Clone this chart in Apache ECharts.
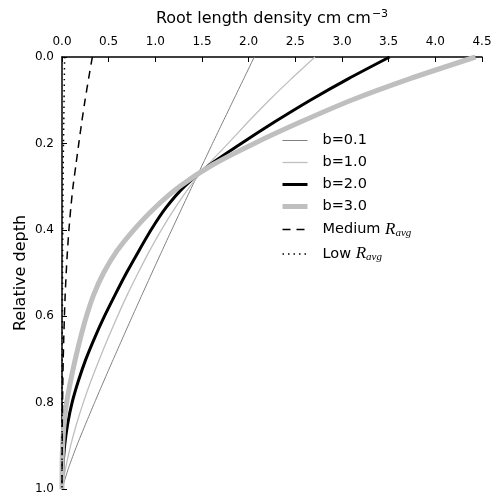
<!DOCTYPE html>
<html>
<head>
<meta charset="utf-8">
<script src="https://cdn.jsdelivr.net/npm/echarts@6/dist/echarts.min.js"></script>
<style>
html,body{margin:0;padding:0;background:#fff;}
#chart{width:496px;height:504px;}
</style>
</head>
<body>
<div id="chart"></div>
<script>
// Relative depth (y values)
const depth = [0, 0.05, 0.1, 0.15, 0.2, 0.25, 0.3, 0.35, 0.4, 0.45, 0.5, 0.55, 0.6, 0.65, 0.7, 0.75, 0.8, 0.85, 0.9, 0.95, 1.0];
// Root length density (x values) for each curve
const b01 = [2.06, 1.948, 1.836, 1.724, 1.613, 1.503, 1.393, 1.284, 1.176, 1.069, 0.963, 0.858, 0.754, 0.651, 0.549, 0.448, 0.349, 0.252, 0.158, 0.072, 0];
const b10 = [2.71, 2.46, 2.22, 1.995, 1.78, 1.56, 1.37, 1.21, 1.065, 0.935, 0.815, 0.70, 0.595, 0.495, 0.40, 0.31, 0.228, 0.155, 0.092, 0.04, 0];
const b20 = [3.51, 3.07, 2.66, 2.28, 1.92, 1.58, 1.31, 1.11, 0.955, 0.82, 0.69, 0.57, 0.455, 0.35, 0.255, 0.175, 0.108, 0.06, 0.028, 0.01, 0];
const b30 = [4.43, 3.73, 3.10, 2.56, 2.06, 1.61, 1.26, 0.99, 0.77, 0.585, 0.445, 0.34, 0.262, 0.198, 0.142, 0.092, 0.05, 0.022, 0.007, 0.001, 0];
const mediumR = [0.325, 0.285, 0.247, 0.212, 0.18, 0.149, 0.118, 0.094, 0.074, 0.058, 0.045, 0.034, 0.026, 0.019, 0.013, 0.009, 0.006, 0.003, 0.002, 0.001, 0];
const lowR = [0.028, 0.025, 0.022, 0.019, 0.016, 0.013, 0.011, 0.009, 0.008, 0.007, 0.006, 0.005, 0.004, 0.003, 0.002, 0.0015, 0.001, 0.0006, 0.0003, 0.0001, 0];
const seriesNames = ['b=0.1', 'b=1.0', 'b=2.0', 'b=3.0', 'Medium', 'Low'];

function pairs(xs) { return xs.map((x, i) => [x, depth[i]]); }

const chart = echarts.init(document.getElementById('chart'), null, {renderer: 'canvas'});
const FONT = 'DejaVu Sans';

const styles = {
  'b=0.1': {color: '#808080', width: 1, type: 'solid'},
  'b=1.0': {color: '#bfbfbf', width: 1.3, type: 'solid'},
  'b=2.0': {color: '#000000', width: 3, type: 'solid'},
  'b=3.0': {color: '#bfbfbf', width: 5, type: 'solid'},
  'Medium': {color: '#000000', width: 1.5, type: [8, 6]},
  'Low': {color: '#000000', width: 1.5, type: [1.5, 4]}
};

function mkSeries(name, xs) {
  const s = styles[name];
  return {
    name: name, type: 'line', data: pairs(xs), symbol: 'none', showSymbol: false, smooth: 0.2,
    lineStyle: {color: s.color, width: s.width, type: s.type, cap: 'butt'},
    itemStyle: {color: s.color},
    emphasis: {disabled: true}, animation: false, clip: true
  };
}

chart.setOption({
  animation: false,
  grid: {left: 62, top: 57, right: 14, bottom: 15, containLabel: false},
  xAxis: {
    type: 'value', position: 'top', min: 0, max: 4.5, interval: 0.5,
    name: '{a|Root length density cm cm}{b|−3}',
    nameLocation: 'middle', nameGap: 28,
    nameTextStyle: {
      rich: {
        a: {fontFamily: FONT, fontSize: 16, color: '#000'},
        b: {fontFamily: FONT, fontSize: 11, color: '#000', verticalAlign: 'top', padding: [0, 0, 9, 1]}
      }
    },
    axisLine: {show: true, onZero: false, lineStyle: {color: '#000', width: 1.5}},
    axisTick: {show: true, inside: true, length: 5, lineStyle: {color: '#000', width: 1}},
    axisLabel: {fontFamily: FONT, fontSize: 12, color: '#000', margin: 9,
      formatter: v => v.toFixed(1)},
    splitLine: {show: false}
  },
  yAxis: {
    type: 'value', inverse: true, min: 0, max: 1, interval: 0.2,
    name: 'Relative depth', nameLocation: 'middle', nameGap: 33, nameMoveOverlap: false,
    nameTextStyle: {fontFamily: FONT, fontSize: 16, color: '#000'},
    axisLine: {show: true, onZero: false, lineStyle: {color: '#000', width: 1.5}},
    axisTick: {show: true, inside: true, length: 5, lineStyle: {color: '#000', width: 1}},
    axisLabel: {fontFamily: FONT, fontSize: 12, color: '#000', margin: 8,
      formatter: v => v.toFixed(1)},
    splitLine: {show: false}
  },
  legend: {
    show: true,
    orient: 'vertical', left: 275, top: 128, itemWidth: 25, itemHeight: 14, itemGap: 7,
    data: seriesNames.map(n => ({
      name: n,
      itemStyle: {opacity: 0, borderWidth: 0},
      lineStyle: {color: styles[n].color, width: styles[n].width, type: styles[n].type}
    })),
    itemStyle: {opacity: 0, borderWidth: 0},
    formatter: function (name) {
      if (name === 'Medium') return '{t|Medium }{r|R}{s|avg}';
      if (name === 'Low') return '{t|Low }{r|R}{s|avg}';
      return '{t|' + name + '}';
    },
    textStyle: {
      fontFamily: FONT, fontSize: 14.5, color: '#000', padding: [0, 0, 0, 10],
      rich: {
        t: {fontFamily: FONT, fontSize: 14.5, color: '#000', lineHeight: 17},
        r: {fontFamily: 'Liberation Serif', fontStyle: 'italic', fontSize: 17, color: '#000'},
        s: {fontFamily: 'Liberation Serif', fontStyle: 'italic', fontSize: 11, color: '#000', verticalAlign: 'bottom', padding: [7, 0, 0, 0]}
      }
    },
    selectedMode: false
  },
  series: seriesNames.map((n, i) => mkSeries(n, [b01, b10, b20, b30, mediumR, lowR][i]))
});
</script>
</body>
</html>
